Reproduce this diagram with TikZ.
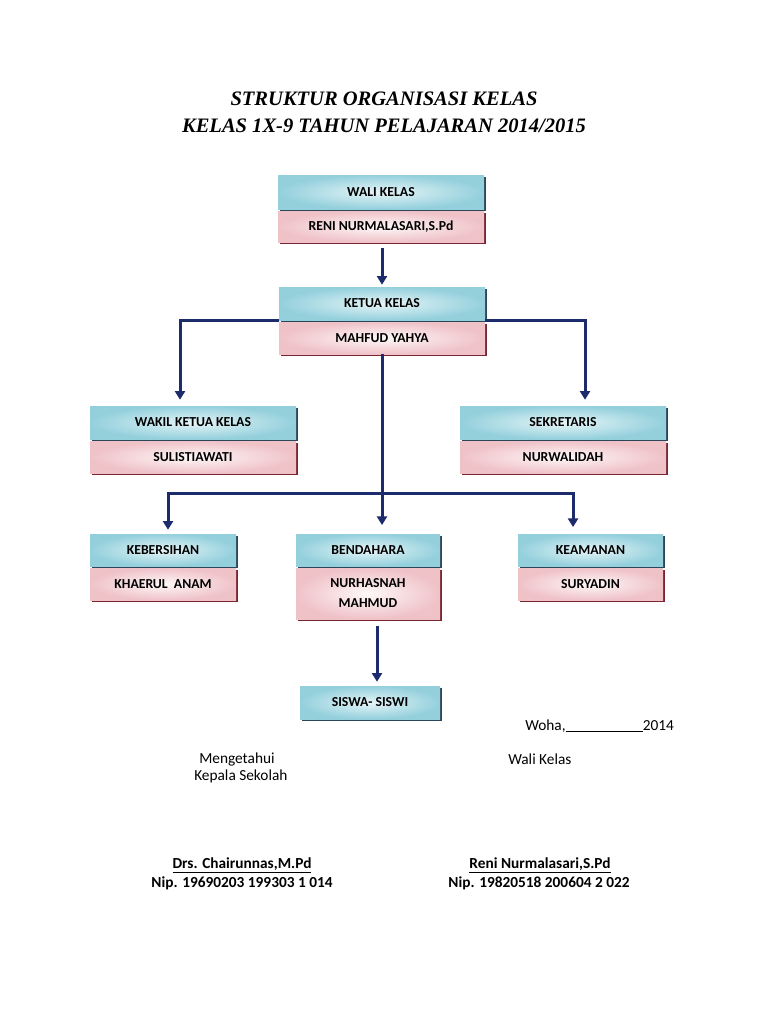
\documentclass[tikz,border=0pt]{standalone}
\usepackage{fontspec}
\setmainfont{Carlito}
\newfontfamily\titlefont{Liberation Serif}
\usetikzlibrary{arrows.meta,shadows,calc}
\definecolor{navy}{HTML}{1C2B6B}
\definecolor{blueIn}{HTML}{E6F5F8}
\definecolor{blueOut}{HTML}{94D0DC}
\definecolor{blueSh}{HTML}{2B4658}
\definecolor{pinkIn}{HTML}{FEF8F8}
\definecolor{pinkOut}{HTML}{EFC2C8}
\definecolor{pinkSh}{HTML}{7A2632}
\begin{document}
\begin{tikzpicture}[x=0.75pt,y=-0.75pt]
\tikzset{
  conn/.style={draw=navy, line width=2.25pt},
  arr/.style={conn, -{Triangle[width=7.5pt,length=6.5pt]}},
  boxbase/.style={rectangle, inner sep=0pt, align=center, text=black,
    font=\fontsize{10.3}{15}\selectfont\bfseries},
  bluebox/.style={boxbase, shading=radial, inner color=blueIn, outer color=blueOut,
    general shadow={fill=blueSh, shadow xshift=1.6pt, shadow yshift=-1.6pt}},
  pinkbox/.style={boxbase, shading=radial, inner color=pinkIn, outer color=pinkOut,
    general shadow={fill=pinkSh, shadow xshift=1.6pt, shadow yshift=-1.6pt}},
  foot/.style={font=\fontsize{11.5}{14}\selectfont, inner sep=0pt},
  footb/.style={font=\fontsize{11.5}{14}\selectfont\bfseries, inner sep=0pt},
  titl/.style={font=\titlefont\bfseries\itshape\fontsize{15.4}{18}\selectfont, inner sep=0pt}
}
\useasboundingbox[fill=white] (0,0) rectangle (768,1024);

% title
\node[titl] (t1) at (384,99) {STRUKTUR ORGANISASI KELAS};
\node[titl] (t2) at (384,126) {KELAS 1X-9 TAHUN PELAJARAN 2014/2015};

\coordinate (j) at (382,493);

% boxes
\node[bluebox, minimum width=154.5pt, minimum height=25.5pt] (waliA) at (381,192) {WALI KELAS};
\node[pinkbox, minimum width=154.5pt, minimum height=23.25pt] (waliB) at (381,226.5) {RENI NURMALASARI,S.Pd};

\node[bluebox, minimum width=154.5pt, minimum height=24.75pt] (ketuaA) at (382,303.5) {KETUA KELAS};
\node[pinkbox, minimum width=154.5pt, minimum height=24pt] (ketuaB) at (382,338) {MAHFUD YAHYA};

\node[bluebox, minimum width=154.5pt, minimum height=24.75pt] (wakilA) at (193,422.5) {WAKIL KETUA KELAS};
\node[pinkbox, minimum width=154.5pt, minimum height=24pt] (wakilB) at (193,457) {SULISTIAWATI};

\node[bluebox, minimum width=154.5pt, minimum height=24.75pt] (sekA) at (563,422.5) {SEKRETARIS};
\node[pinkbox, minimum width=154.5pt, minimum height=24pt] (sekB) at (563,457) {NURWALIDAH};

\node[bluebox, minimum width=109.5pt, minimum height=24pt] (kebA) at (163,550) {KEBERSIHAN};
\node[pinkbox, minimum width=109.5pt, minimum height=24pt] (kebB) at (163,584) {KHAERUL\ \ ANAM};

\node[bluebox, minimum width=108pt, minimum height=24pt] (benA) at (368,550) {BENDAHARA};
\node[pinkbox, minimum width=108pt, minimum height=38.25pt] (benB) at (368,593.5) {NURHASNAH\\MAHMUD};

\node[bluebox, minimum width=108.75pt, minimum height=24pt] (keaA) at (590.5,550) {KEAMANAN};
\node[pinkbox, minimum width=108.75pt, minimum height=24pt] (keaB) at (590.5,584) {SURYADIN};

\node[bluebox, minimum width=105pt, minimum height=24.75pt] (siswa) at (370,702.5) {SISWA- SISWI};

% connectors
\draw[arr, shorten <=4.5pt, shorten >=1.5pt] (waliB.south -| ketuaA.north) -- (ketuaA.north);
\draw[arr, shorten >=4.5pt] (ketuaA.south west) -| ([xshift=-9.75pt]wakilA.north);
\draw[arr, shorten >=4.5pt] (ketuaA.south east) -| ([xshift=16.5pt]sekA.north);
\draw[arr, shorten >=6.5pt] (ketuaB.south) -- (ketuaB.south |- benA.north);
\draw[arr, shorten >=3pt] (j) -| ([xshift=3.75pt]kebA.north);
\draw[arr, shorten >=5pt] (j) -| ([xshift=-13.1pt]keaA.north);
\draw[arr, shorten <=5.25pt, shorten >=3pt] ([xshift=6.75pt]benB.south) -- ([xshift=6.75pt]benB.south |- siswa.north);

% footer
\node[foot, anchor=west] (woha) at (525,726) {Woha,\rule[-1.2pt]{58pt}{0.6pt}2014};
\node[foot, anchor=west] (meng) at (199,759) {Mengetahui};
\node[foot, anchor=west] (kep) at (194,776) {Kepala Sekolah};
\node[foot, anchor=west] (wk) at (508,759) {Wali Kelas};
\node[footb] (drs) at (242,865) {\underline{Drs. Chairunnas,M.Pd}};
\node[footb] (nip1) at (242,883) {Nip. 19690203 199303 1 014};
\node[footb] (reni) at (540,865) {\underline{Reni Nurmalasari,S.Pd}};
\node[footb] (nip2) at (539,883) {Nip. 19820518 200604 2 022};
\end{tikzpicture}
\end{document}
